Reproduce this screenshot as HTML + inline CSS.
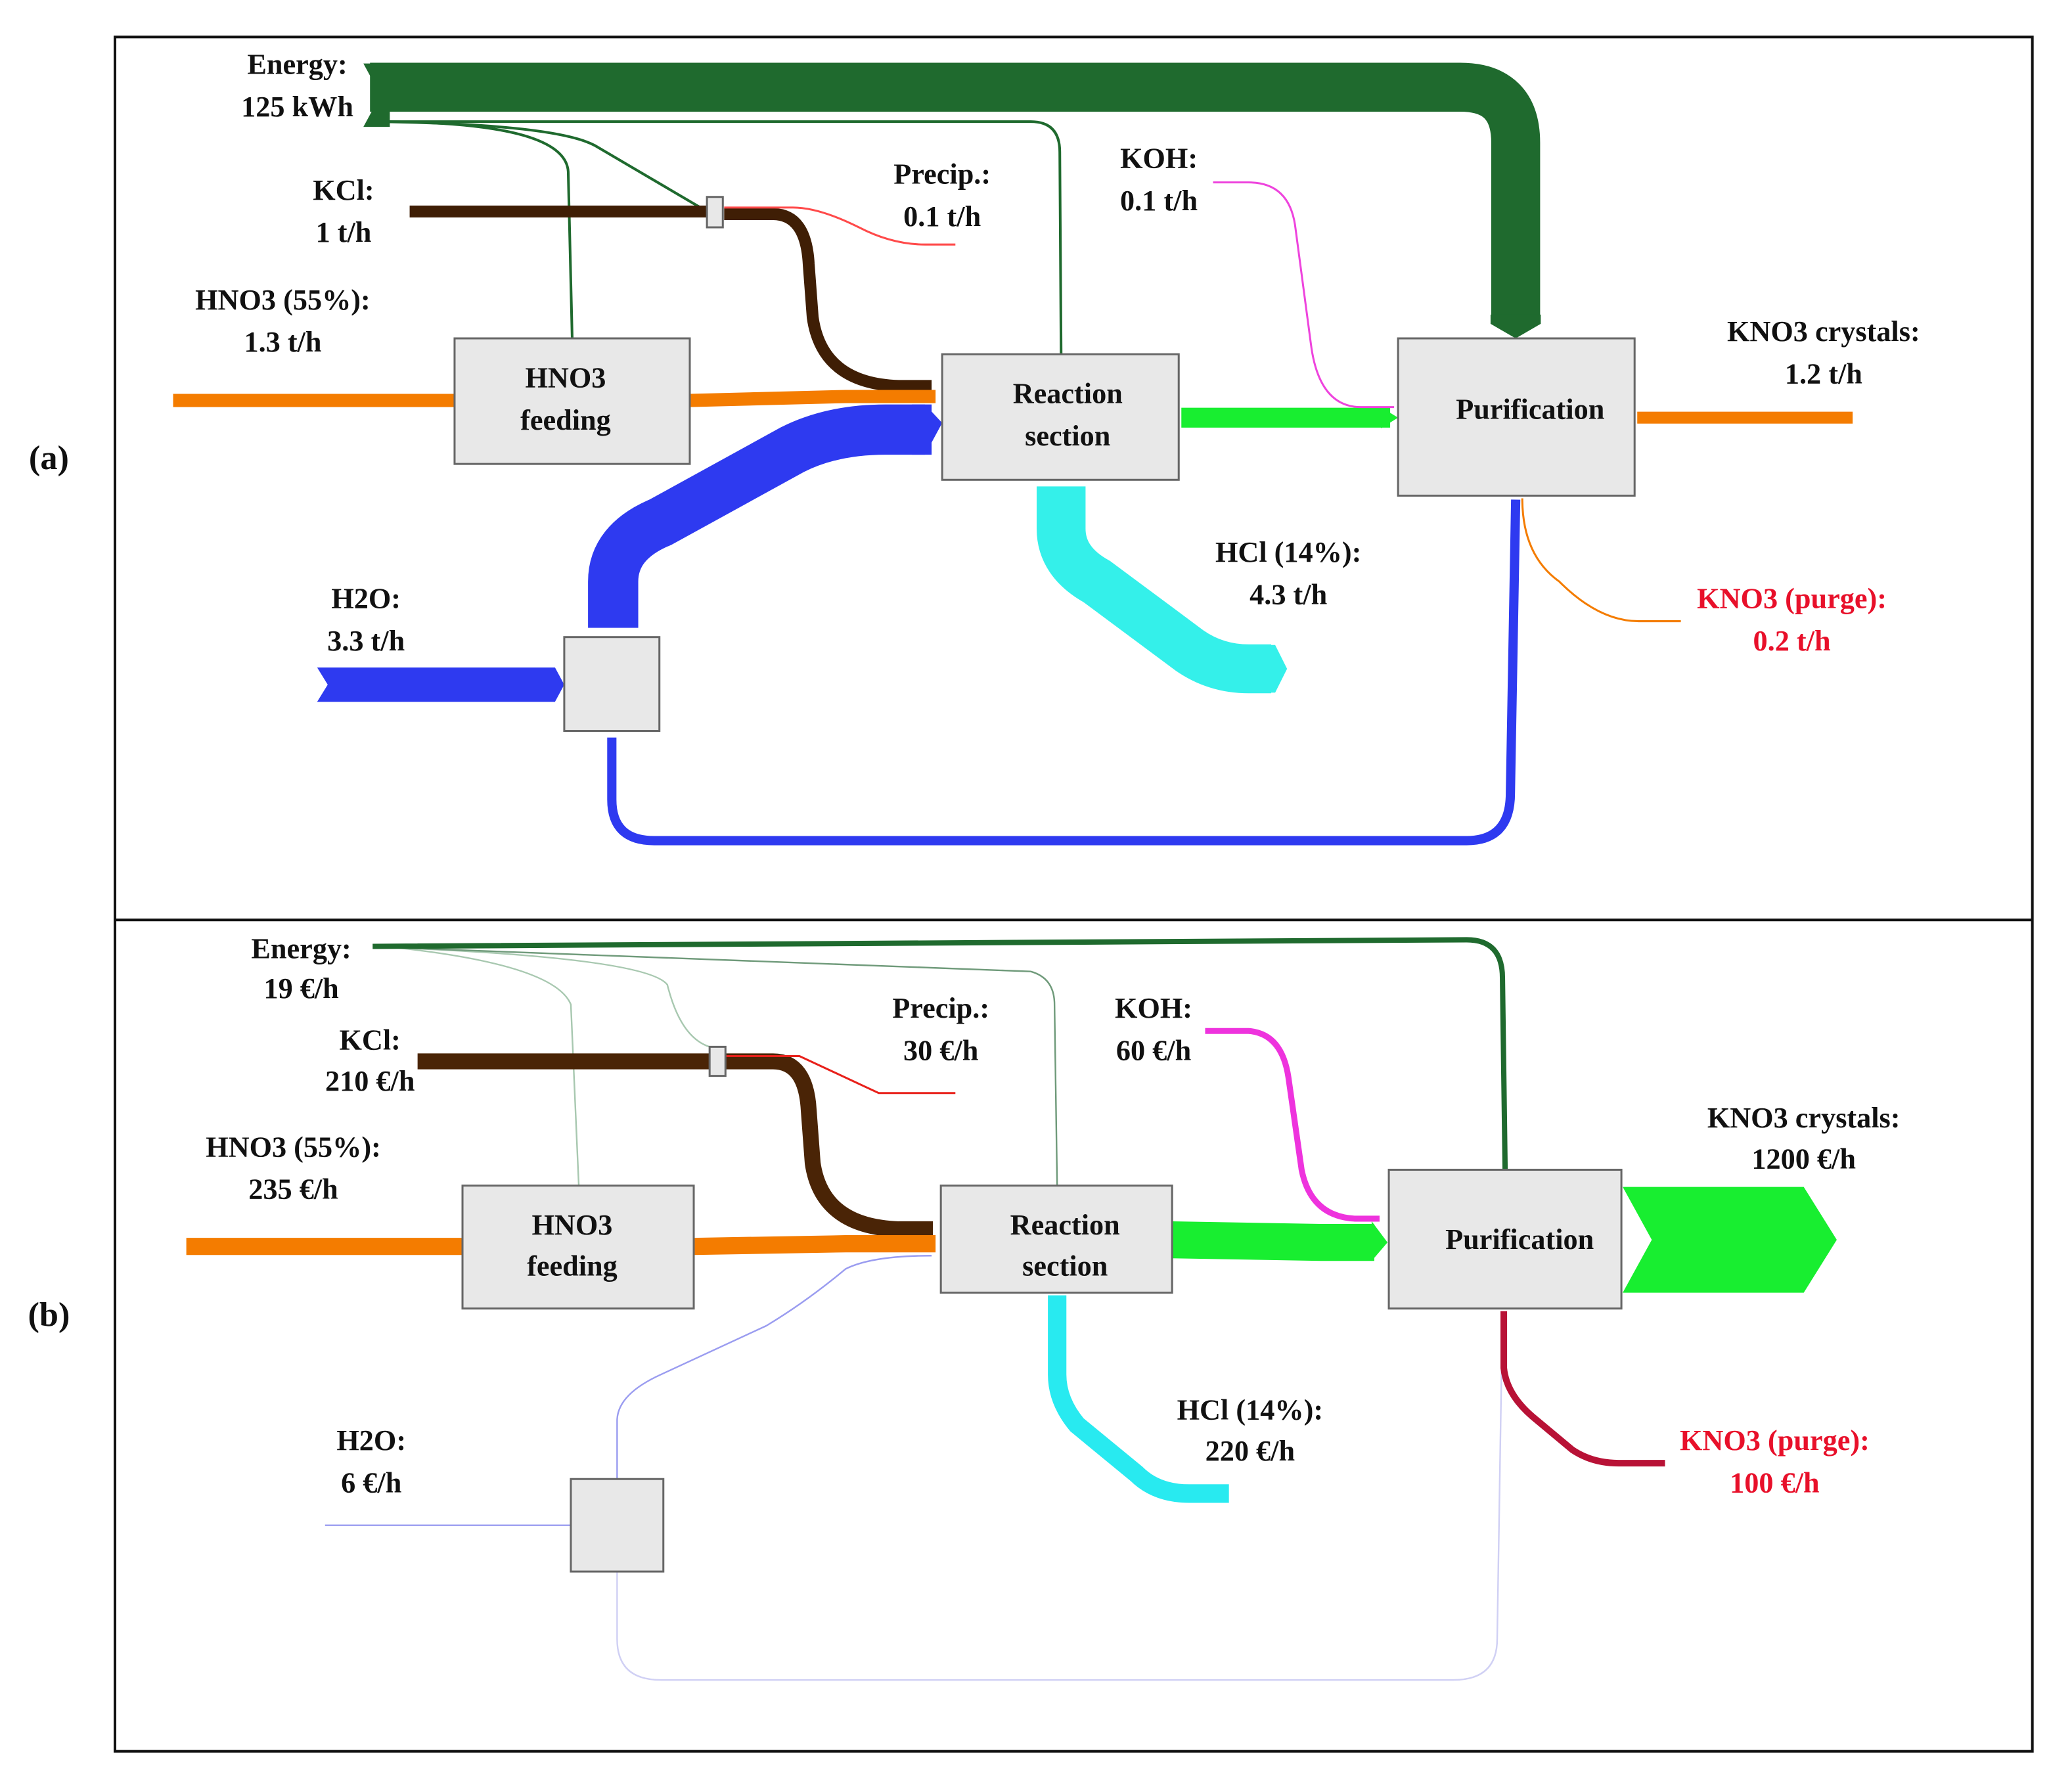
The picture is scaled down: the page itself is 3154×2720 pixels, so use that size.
<!DOCTYPE html>
<html><head><meta charset="utf-8"><style>
html,body{margin:0;padding:0;background:#fff}
svg{display:block}
text{font-family:"Liberation Serif",serif;font-size:22px;font-weight:bold;fill:#111;text-anchor:middle}
.r{fill:#e8102a}
.box{fill:#e8e8e8;stroke:#666;stroke-width:1.5}
</style></head><body>
<svg width="3154" height="2720" viewBox="0 0 1568 1352" preserveAspectRatio="none" xmlns="http://www.w3.org/2000/svg">
<rect x="87" y="28" width="1451" height="1297" fill="none" stroke="#111" stroke-width="2"/>
<line x1="87" y1="696" x2="1538" y2="696" stroke="#111" stroke-width="2"/>
<text x="37" y="355" style="font-size:26px">(a)</text>
<text x="37" y="1003" style="font-size:26px">(b)</text>

<!-- ===== (a) ===== -->
<g fill="none" stroke="#1f6a2e" stroke-width="2">
<path d="M285 92 Q428 92 430 130 L433 256"/>
<path d="M285 92 Q420 94 450 110 L530 157"/>
<path d="M285 92 L780 92 Q802 92 802 115 L803 268"/>
</g>
<path d="M280 66 H1105 Q1147 66 1147 108 V240" fill="none" stroke="#1f6a2e" stroke-width="37"/>
<polygon points="275,48 295,48 295,96 275,96 288,72" fill="#1f6a2e"/>
<polygon points="1128,238 1166,238 1166,245 1147,256 1128,245" fill="#1f6a2e"/>
<path d="M310 160 H535" stroke="#3f1e05" stroke-width="9" fill="none"/>
<path d="M548 162 H585 Q610 162 612 200 L615 240 Q622 290 680 292 H705" stroke="#3f1e05" stroke-width="9" fill="none"/>
<path d="M548 157 H600 Q620 157 650 172 Q675 185 700 185 H723" stroke="#ff4a4a" stroke-width="1.5" fill="none"/>
<rect x="535" y="149" width="12" height="23" class="box"/>
<path d="M131 303 H344" stroke="#f47c00" stroke-width="10"/>
<path d="M522 303 L640 300 H708" stroke="#f47c00" stroke-width="10"/>
<polygon points="240,505 420,505 427,518 420,531 240,531 248,518" fill="#2e3af0"/>
<path d="M464 475 V440 Q464 410 500 395 L600 340 Q630 325 670 325 H705" fill="none" stroke="#2e3af0" stroke-width="38"/>
<polygon points="700,306 713,320 700,344 690,344 690,306" fill="#2e3af0"/>
<path d="M463 558 V605 Q463 636 495 636 H1110 Q1143 636 1143 600 L1147 378" fill="none" stroke="#2e3af0" stroke-width="7"/>
<rect x="427" y="482" width="72" height="71" class="box"/>
<path d="M894 316 H1052" stroke="#18ee30" stroke-width="15"/>
<polygon points="1045,308 1058,316 1045,324" fill="#18ee30"/>
<path d="M918 138 H945 Q975 138 980 170 L992 260 Q998 308 1030 308 H1055" fill="none" stroke="#ee44dd" stroke-width="1.5"/>
<path d="M803 368 V400 Q803 425 830 440 L900 492 Q920 506 945 506 H962" fill="none" stroke="#34f0ea" stroke-width="37"/>
<polygon points="958,488 965,488 974,506 965,524 958,524" fill="#34f0ea"/>
<path d="M1152 377 Q1152 420 1180 440 Q1210 470 1240 470 H1272" fill="none" stroke="#f47c00" stroke-width="1.5"/>
<path d="M1239 316 H1402" stroke="#f47c00" stroke-width="9"/>
<rect x="344" y="256" width="178" height="95" class="box"/>
<text x="428" y="293">HNO3</text><text x="428" y="325">feeding</text>
<rect x="713" y="268" width="179" height="95" class="box"/>
<text x="808" y="305">Reaction</text><text x="808" y="337">section</text>
<rect x="1058" y="256" width="179" height="119" class="box"/>
<text x="1158" y="317">Purification</text>
<text x="225" y="56">Energy:</text><text x="225" y="88">125 kWh</text>
<text x="260" y="151">KCl:</text><text x="260" y="183">1 t/h</text>
<text x="214" y="234">HNO3 (55%):</text><text x="214" y="266">1.3 t/h</text>
<text x="713" y="139">Precip.:</text><text x="713" y="171">0.1 t/h</text>
<text x="877" y="127">KOH:</text><text x="877" y="159">0.1 t/h</text>
<text x="1380" y="258">KNO3 crystals:</text><text x="1380" y="290">1.2 t/h</text>
<text x="975" y="425">HCl (14%):</text><text x="975" y="457">4.3 t/h</text>
<text x="277" y="460">H2O:</text><text x="277" y="492">3.3 t/h</text>
<text x="1356" y="460" class="r">KNO3 (purge):</text><text x="1356" y="492" class="r">0.2 t/h</text>

<!-- ===== (b) ===== -->
<g fill="none" stroke-width="1.2">
<path d="M300 717 Q420 730 432 760 L438 897" stroke="#a8c8b0"/>
<path d="M300 717 Q490 725 505 745 Q515 785 537 792" stroke="#a8c8b0"/>
<path d="M300 717 L780 735 Q798 740 798 760 L800 897" stroke="#6f9a7a"/>
<path d="M246 1154 H432" stroke="#9a9cf0"/>
<path d="M467 1119 V1075 Q467 1055 500 1040 L580 1003 Q610 985 640 960 Q660 950 705 950" stroke="#9a9cf0"/>
<path d="M467 1189 V1240 Q467 1271 500 1271 H1100 Q1133 1271 1133 1240 L1137 992" stroke="#d0d0f4"/>
</g>
<path d="M282 716 L1110 711 Q1137 711 1137 740 L1139 885" fill="none" stroke="#1f6a2e" stroke-width="4"/>
<path d="M316 803 H537" stroke="#4a2406" stroke-width="12"/>
<path d="M549 803 H585 Q610 803 612 840 L615 880 Q622 928 680 930 H706" stroke="#4a2406" stroke-width="12" fill="none"/>
<path d="M549 799 H605 L665 827 H723" stroke="#e8201a" stroke-width="1.5" fill="none"/>
<rect x="537" y="792" width="12" height="22" class="box"/>
<path d="M141 943 H350" stroke="#f47c00" stroke-width="13"/>
<path d="M525 943 L640 941 H708" stroke="#f47c00" stroke-width="13"/>
<path d="M887 938 L1000 940 H1040" stroke="#18ee30" stroke-width="28"/>
<polygon points="1038,924 1050,940 1038,954" fill="#18ee30"/>
<polygon points="1228,898 1365,898 1390,938 1365,978 1228,978 1250,938" fill="#18ee30"/>
<path d="M912 780 H945 Q970 782 975 815 L985 885 Q992 920 1025 922 H1044" fill="none" stroke="#ee33dd" stroke-width="4.5"/>
<path d="M800 980 V1040 Q800 1060 815 1078 L860 1115 Q875 1130 900 1130 H930" fill="none" stroke="#28eaf0" stroke-width="14"/>
<path d="M1138 992 V1035 Q1140 1055 1160 1072 L1190 1097 Q1205 1107 1225 1107 H1260" fill="none" stroke="#b81236" stroke-width="5"/>
<rect x="432" y="1119" width="70" height="70" class="box"/>
<rect x="350" y="897" width="175" height="93" class="box"/>
<text x="433" y="934">HNO3</text><text x="433" y="965">feeding</text>
<rect x="712" y="897" width="175" height="81" class="box"/>
<text x="806" y="934">Reaction</text><text x="806" y="965">section</text>
<rect x="1051" y="885" width="176" height="105" class="box"/>
<text x="1150" y="945">Purification</text>
<text x="228" y="725">Energy:</text><text x="228" y="755">19 €/h</text>
<text x="280" y="794">KCl:</text><text x="280" y="825">210 €/h</text>
<text x="222" y="875">HNO3 (55%):</text><text x="222" y="907">235 €/h</text>
<text x="712" y="770">Precip.:</text><text x="712" y="802">30 €/h</text>
<text x="873" y="770">KOH:</text><text x="873" y="802">60 €/h</text>
<text x="1365" y="853">KNO3 crystals:</text><text x="1365" y="884">1200 €/h</text>
<text x="946" y="1074">HCl (14%):</text><text x="946" y="1105">220 €/h</text>
<text x="281" y="1097">H2O:</text><text x="281" y="1129">6 €/h</text>
<text x="1343" y="1097" class="r">KNO3 (purge):</text><text x="1343" y="1129" class="r">100 €/h</text>
</svg>
</body></html>
